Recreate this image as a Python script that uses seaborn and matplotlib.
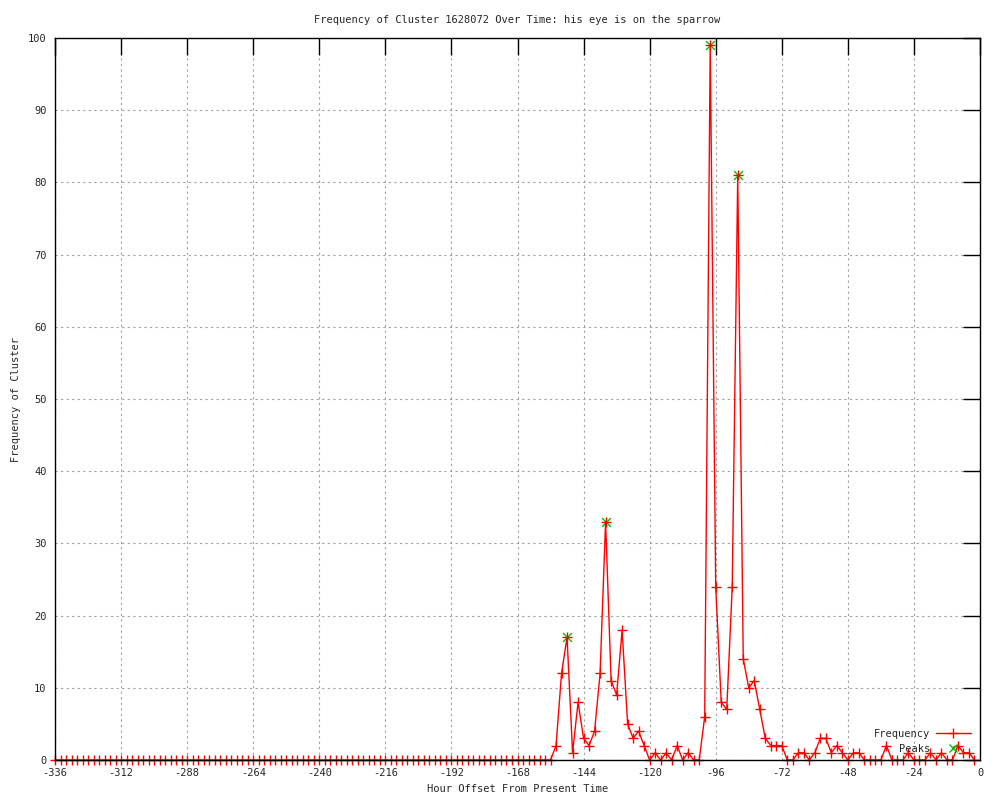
import numpy as np
import pandas as pd
import matplotlib
matplotlib.use("Agg")
import matplotlib.pyplot as plt
from matplotlib.lines import Line2D
import seaborn as sns

# ---- data ----
hours = list(range(-336, 0, 2))  # hour offsets, every 2 hours

freq_early = [
    0, 0, 0, 0, 0, 0, 0, 0, 0, 0, 0, 0, 0, 0, 0, 0, 0, 0, 0, 0,
    0, 0, 0, 0, 0, 0, 0, 0, 0, 0, 0, 0, 0, 0, 0, 0, 0, 0, 0, 0,
    0, 0, 0, 0, 0, 0, 0, 0, 0, 0, 0, 0, 0, 0, 0, 0, 0, 0, 0, 0,
    0, 0, 0, 0, 0, 0, 0, 0, 0, 0, 0, 0, 0, 0, 0, 0, 0, 0, 0, 0,
    0, 0, 0, 0, 0, 0, 0, 0, 0, 0, 0,
]  # -336 .. -156
freq_late = [
    2, 12, 17, 1, 8, 3, 2, 4, 12, 33,      # -154 .. -136
    11, 9, 18, 5, 3, 4, 2, 0, 1, 0,        # -134 .. -116
    1, 0, 2, 0, 1, 0, 0, 6, 99, 24,        # -114 .. -96
    8, 7, 24, 81, 14, 10, 11, 7, 3, 2,     # -94 .. -76
    2, 2, 0, 0, 1, 1, 0, 1, 3, 3,          # -74 .. -56
    1, 2, 1, 0, 1, 1, 0, 0, 0, 0,          # -54 .. -36
    2, 0, 0, 0, 1, 0, 0, 0, 1, 0,          # -34 .. -16
    1, 0, 0, 2, 1, 1, 0,                   # -14 .. -2
]
freq = freq_early + freq_late

peak_hours = [-150, -136, -98, -88]
peak_values = [17, 33, 99, 81]

x_ticks = [-336, -312, -288, -264, -240, -216, -192, -168, -144, -120, -96, -72, -48, -24, 0]
y_ticks = [0, 10, 20, 30, 40, 50, 60, 70, 80, 90, 100]

title = "Frequency of Cluster 1628072 Over Time: his eye is on the sparrow"
xlabel = "Hour Offset From Present Time"
ylabel = "Frequency of Cluster"

df = pd.DataFrame({"hour": hours, "freq": freq})
peaks = pd.DataFrame({"hour": peak_hours, "freq": peak_values})

# ---- style ----
sns.set_style("white")
plt.rcParams["font.family"] = ["DejaVu Sans Mono", "DejaVu Sans"]
FS = 7.5
RED = "#ff0000"
GREEN = "#00c000"

fig = plt.figure(figsize=(10, 8), dpi=100)
ax = fig.add_axes([0.055, 0.05, 0.925, 0.9025])

sns.scatterplot(data=peaks, x="hour", y="freq", marker="x", color=GREEN,
                s=40, linewidth=1.0, ax=ax, zorder=3, legend=False, clip_on=False)
sns.lineplot(data=df, x="hour", y="freq", color=RED, linewidth=1.0,
             marker="+", markersize=7, markeredgewidth=1.0,
             markeredgecolor=RED, markerfacecolor=RED, ax=ax,
             zorder=4, legend=False, clip_on=False)

ax.set_xlim(-336, 0)
ax.set_ylim(0, 100)
ax.set_xticks(x_ticks)
ax.set_yticks(y_ticks)
ax.set_xticklabels([str(t) for t in x_ticks], fontsize=FS)
ax.set_yticklabels([str(t) for t in y_ticks], fontsize=FS)
ax.tick_params(direction="in", length=12, width=1, color="black",
               top=True, right=True, pad=6)
ax.grid(True, color="#a0a0a0", linestyle=(0, (2, 3)), linewidth=0.8)
ax.set_axisbelow(True)
for sp in ax.spines.values():
    sp.set_color("black")
    sp.set_linewidth(1.0)
    sp.set_zorder(5)

ax.set_title(title, fontsize=FS, pad=11)
ax.set_xlabel(xlabel, fontsize=FS, labelpad=4)
ax.set_ylabel(ylabel, fontsize=FS, labelpad=5)

handles = [
    Line2D([], [], color=RED, marker="+", markersize=7, markeredgewidth=1.0, linewidth=1.0),
    Line2D([], [], color=GREEN, marker="x", markersize=6, markeredgewidth=1.0, linestyle="None"),
]
leg = ax.legend(handles, ["Frequency", "Peaks"], loc="lower right",
                bbox_to_anchor=(1.0, -0.004), frameon=False, markerfirst=False,
                handlelength=3.3, handletextpad=0.6, labelspacing=0.45,
                prop={"size": FS, "family": "DejaVu Sans Mono"})
leg.set_zorder(6)

fig.savefig("out.png", dpi=100)
